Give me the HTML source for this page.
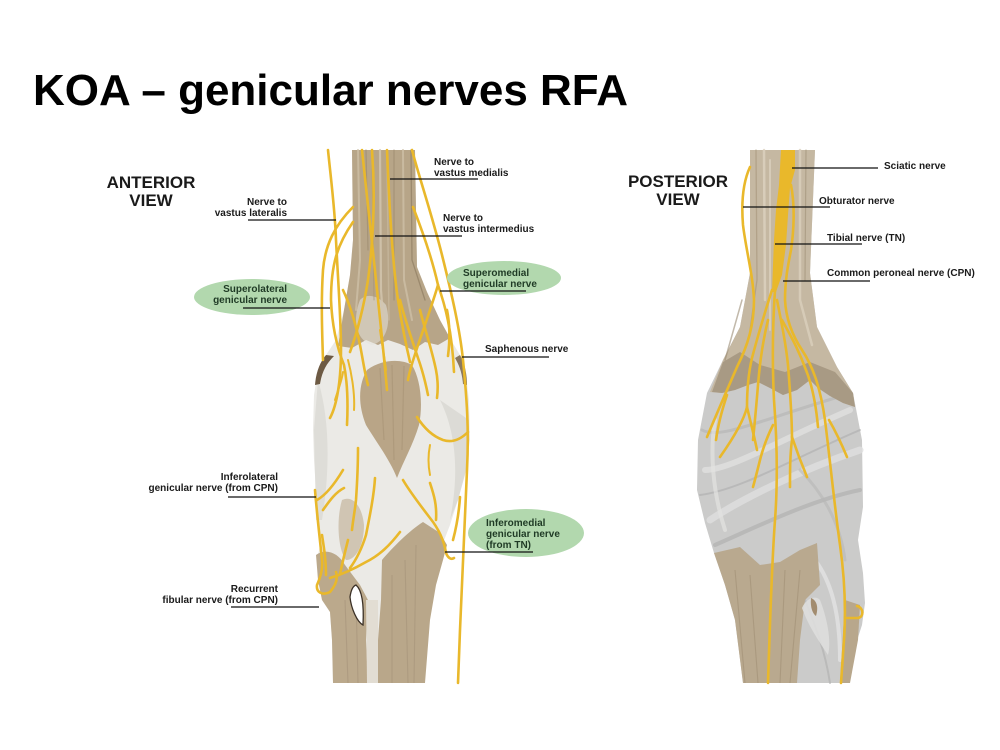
<!DOCTYPE html>
<html><head><meta charset="utf-8"><style>
html,body{margin:0;padding:0;background:#fff;}
body{width:1000px;height:750px;overflow:hidden;position:relative;}
svg{position:absolute;left:0;top:0;}
.t{font-family:"Liberation Sans",sans-serif;font-weight:bold;fill:#1a1a1a;}
.lb{font-size:10px;}
.g{fill:#1f3a25;}
.nv{fill:none;stroke:#e9b82b;stroke-width:2.6;stroke-linecap:round;stroke-linejoin:round;}
.nt{fill:none;stroke:#e9b82b;stroke-width:2;stroke-linecap:round;stroke-linejoin:round;}
.ld{stroke:#111;stroke-width:1.3;}
</style></head><body>
<svg width="1000" height="750" viewBox="0 0 1000 750" xmlns="http://www.w3.org/2000/svg">
<text x="33" y="105" style="font-family:'Liberation Sans',sans-serif;font-weight:bold;font-size:44px;fill:#000;">KOA – genicular nerves RFA</text>

<!-- ================= ANTERIOR VIEW ================= -->
<path d="M352,150 L353,240 L350,275 L344,310 L336,340 L326,355 L318,370 L314,395 L313,430 L314,460 L316,490 L318,520 L320,545 L317,560 L318,580 L322,600 L330,612 L332,640 L333,683 L424,683 L428,620 L433,583 L443,543 L450,525 L458,500 L465,475 L470,440 L469,400 L466,375 L460,355 L443,327 L427,292 L417,267 L415,150 Z" fill="#ebeae6"/>
<path d="M318,380 C330,420 330,470 322,520 L316,520 L314,430 Z" fill="#d9d7d2" opacity="0.7"/>
<path d="M440,400 C455,430 460,470 450,520 L458,500 L466,470 L469,420 Z" fill="#d6d4cf" opacity="0.7"/>
<path d="M326,355 C320,362 316,372 315,385 L320,384 C322,372 326,364 334,356 Z" fill="#6d5a44"/>
<path d="M460,355 C464,362 467,372 467,385 L463,384 C462,372 459,365 455,358 Z" fill="#8a7860"/>
<path d="M352,150 L415,150 L417,267 L427,292 L440,320 L450,338 L438,345 L425,342 L413,350 L400,344 L388,340 L378,345 L366,340 L352,348 L338,346 L344,310 L350,275 L353,240 Z" fill="#b7a588"/>
<path d="M360,300 C352,320 356,340 372,345 C385,342 392,325 386,305 C378,295 366,293 360,300 Z" fill="#e6e3dc" opacity="0.55"/>
<g stroke-linecap="round" fill="none">
<path d="M358,150 L360,260 L356,310" stroke="#cdbfa6" stroke-width="2" opacity="0.8"/>
<path d="M366,150 L368,250" stroke="#9d8b70" stroke-width="1.2" opacity="0.7"/>
<path d="M380,150 L381,290 L384,330" stroke="#d3c7b0" stroke-width="2.2" opacity="0.8"/>
<path d="M394,150 L394,300" stroke="#9c8a6e" stroke-width="1.3" opacity="0.6"/>
<path d="M403,150 L404,280 L412,320" stroke="#cdbfa6" stroke-width="2" opacity="0.8"/>
<path d="M411,150 L412,260 L425,300" stroke="#8f7d62" stroke-width="1.3" opacity="0.7"/>
<path d="M372,160 L374,300" stroke="#a39175" stroke-width="1" opacity="0.6"/>
<path d="M387,160 L389,320" stroke="#c8b99f" stroke-width="1.5" opacity="0.7"/>
</g>
<path d="M367,370 C380,360 400,358 412,365 C421,380 423,405 419,425 C413,445 403,462 397,478 C390,460 375,440 366,425 C358,405 358,385 367,370 Z" fill="#b9a587"/>
<path d="M380,368 L384,440 M392,365 L394,460 M404,366 L402,450" stroke="#a69374" stroke-width="1.2" opacity="0.6" fill="none"/>
<path d="M342,500 C352,495 362,505 364,525 C364,545 356,560 346,560 C338,550 336,520 342,500 Z" fill="#c9bca6" opacity="0.8"/>
<path d="M316,555 C325,548 338,552 345,565 L360,585 L368,600 L366,640 L368,683 L333,683 L332,640 L330,612 L322,600 L318,580 Z" fill="#bba98c"/>
<path d="M382,560 C392,548 410,530 423,522 L440,533 L447,545 L443,560 L436,585 L430,620 L425,683 L378,683 L378,640 L381,600 Z" fill="#b9a78a"/>
<path d="M366,600 L378,600 L378,683 L367,683 Z" fill="#e2ddd3"/>
<path d="M345,600 L348,683 M356,595 L358,683 M392,575 L392,683 M405,560 L408,683 M416,545 L414,683" stroke="#a5937a" stroke-width="1.1" opacity="0.6" fill="none"/>
<path d="M356,585 C362,590 364,605 363,625 C357,622 351,608 350,597 C351,590 353,586 356,585 Z" fill="#fff" stroke="#3b3127" stroke-width="1.3"/>

<g class="nv">
<path d="M328,150 C331,180 335,210 336,240 C338,280 341,320 341,350 C341,380 337,405 330,418"/>
<path d="M353,207 C335,225 325,245 323,270 C321,300 322,330 323,360"/>
<path d="M353,222 C337,245 331,265 331,300 C332,325 336,345 344,365 C348,385 348,405 347,425"/>
<path d="M362,150 C366,190 372,240 376,280 C380,320 384,355 387,390"/>
<path d="M387,150 C389,200 392,260 398,300 C402,325 406,345 410,362"/>
<path d="M372,150 C375,190 374,235 368,280 C364,305 358,330 350,352"/>
<path d="M412,150 C420,180 432,215 442,255 C452,295 460,330 463,360 C467,400 469,430 467,470 C465,520 462,580 460,630 L458,683"/>
<path d="M413,207 C422,230 432,258 438,285 C445,305 452,330 454,372"/>
<path d="M438,285 C432,305 425,325 418,345 C414,358 410,368 408,380"/>
<path d="M343,290 C350,305 356,325 360,345 C363,360 365,375 368,385"/>
<path d="M400,300 C405,320 412,340 418,358 C423,372 426,385 428,395"/>
<path d="M420,310 C425,330 432,350 436,370 C438,380 438,390 437,398"/>
<path d="M447,310 C450,325 450,340 448,356"/>
<path d="M417,417 C424,428 432,436 443,440 C452,443 460,440 468,432"/>
<path d="M315,490 C317,515 320,540 322,560 C323,570 320,578 317,585 C316,592 322,596 330,592 C336,585 338,578 336,572"/>
<path d="M317,500 C326,495 334,485 343,470"/>
<path d="M323,510 C330,500 336,492 344,488"/>
<path d="M358,448 C358,465 357,485 356,500 C355,510 353,520 352,530"/>
<path d="M375,478 C374,495 370,515 366,535 C362,548 356,560 350,568"/>
<path d="M330,578 C340,575 352,570 366,562 C380,555 390,545 400,532"/>
<path d="M326,575 C326,560 324,548 322,535"/>
<path d="M340,574 C343,560 346,548 348,540"/>
<path d="M403,480 C410,492 420,505 430,518 C438,528 444,540 446,553 C448,558 451,560 454,558"/>
<path d="M430,483 C434,495 437,505 436,520"/>
<path d="M460,497 C459,512 457,525 453,540"/>
</g>
<g class="nt">
<path d="M348,360 C352,375 355,395 354,410"/>
<path d="M380,330 C382,345 385,360 386,370"/>
<path d="M430,445 C428,455 428,465 430,475"/>
<path d="M335,400 C338,390 342,380 343,372"/>
</g>

<!-- ================= POSTERIOR VIEW ================= -->
<path d="M750,150 L750,273 L740,327 L723,360 L707,393 L698,440 L697,490 L705,523 L714,553 L725,585 L735,620 L743,683 L848,683 L853,653 L862,625 L865,603 L863,573 L858,540 L863,507 L862,440 L853,393 L837,367 L817,327 L810,273 L815,150 Z" fill="#cbcbca"/>
<g fill="none" stroke-linecap="round">
<path d="M705,470 C730,470 780,440 850,410" stroke="#e0e0df" stroke-width="6" opacity="0.8"/>
<path d="M710,520 C740,500 800,470 860,450" stroke="#dedede" stroke-width="7" opacity="0.8"/>
<path d="M715,545 C750,530 810,500 860,490" stroke="#b1b1b0" stroke-width="4" opacity="0.7"/>
<path d="M702,430 C720,440 760,420 845,395" stroke="#b4b4b3" stroke-width="3" opacity="0.6"/>
<path d="M700,495 C740,490 790,460 860,430" stroke="#aeaead" stroke-width="2" opacity="0.6"/>
<path d="M715,420 C710,450 712,490 725,530" stroke="#e2e2e1" stroke-width="4" opacity="0.7"/>
<path d="M800,470 C820,490 840,520 845,560" stroke="#b7b7b6" stroke-width="3" opacity="0.6"/>
<path d="M815,560 C830,580 840,610 840,660" stroke="#e2e2e2" stroke-width="4" opacity="0.8"/>
<path d="M805,600 C815,625 825,650 830,683" stroke="#b2b2b2" stroke-width="2" opacity="0.7"/>
</g>
<path d="M750,150 L815,150 L810,273 L817,327 L837,367 L853,393 L855,407 L843,403 L830,396 L818,388 L810,380 L797,390 L783,395 L770,388 L758,382 L748,385 L735,390 L722,393 L710,392 L723,360 L740,327 L750,273 Z" fill="#c5b8a2"/>
<path d="M712,392 L723,362 L740,352 L760,365 L785,372 L810,362 L835,372 L853,393 L855,407 L843,403 L830,396 L818,388 L810,380 L797,390 L783,395 L770,388 L758,382 L748,385 L735,390 L722,393 Z" fill="#a89a84"/>
<g fill="none" stroke-linecap="round">
<path d="M756,150 L757,280 L750,330" stroke="#a9997f" stroke-width="1.3" opacity="0.7"/>
<path d="M764,150 L765,300" stroke="#dcd2c0" stroke-width="2.5" opacity="0.8"/>
<path d="M800,150 L800,300 L812,345" stroke="#dad0bd" stroke-width="2.5" opacity="0.8"/>
<path d="M806,150 L805,280" stroke="#9f8f76" stroke-width="1.2" opacity="0.6"/>
<path d="M770,160 L770,330" stroke="#ddd3c2" stroke-width="2" opacity="0.7"/>
<path d="M742,300 L725,360" stroke="#9a8b73" stroke-width="1.5" opacity="0.6"/>
</g>
<path d="M714,553 L740,547 L760,565 L780,562 L800,550 L817,543 L820,585 L805,600 L800,640 L797,683 L743,683 L735,620 L725,585 Z" fill="#b9a98f"/>
<path d="M845,600 L860,605 L858,640 L850,683 L840,683 Z" fill="#b8a78c"/>
<path d="M735,570 L745,683 M750,575 L758,683 M785,570 L780,683 M800,570 L790,683" stroke="#a08f74" stroke-width="1.1" opacity="0.6" fill="none"/>
<path d="M802,608 C806,598 816,595 820,600 C826,615 832,640 828,655 C818,640 808,625 802,608 Z" fill="#dededd" opacity="0.9"/>
<path d="M811,598 C816,600 819,606 816,616 C813,614 810,608 811,598 Z" fill="#a28c6f"/>

<path d="M781,150 L795,150 L795,170 L790,188 L788,215 L786,245 L782,275 L776,292 L772,292 L773,265 L774,240 L776,210 L779,185 Z" fill="#e9b82b"/>
<g class="nv">
<path d="M791,185 C795,205 794,230 791,250 C788,265 785,280 785,300 C786,318 792,335 802,350 C812,365 820,385 825,420 C830,460 835,510 840,545 C845,580 846,610 844,640 L841,683"/>
<path d="M845,618 L858,618 C864,617 864,608 857,606"/>
<path d="M775,290 C773,320 772,360 774,400 C777,440 778,480 775,520 C772,560 770,620 768,683"/>
<path d="M750,167 C744,180 741,200 743,225 C746,250 753,275 754,300 C754,325 748,345 737,367 C727,390 717,413 707,437"/>
<path d="M772,290 C765,312 758,335 752,358 C748,375 747,395 747,407 C744,420 732,440 720,457"/>
<path d="M747,407 C750,420 754,435 757,450"/>
<path d="M768,320 C763,340 760,360 758,385 C756,410 754,430 753,440"/>
<path d="M773,425 C768,435 763,448 760,460 C757,472 755,480 753,487"/>
<path d="M777,300 C782,325 786,345 788,365 C790,390 792,420 792,440 C790,455 790,470 790,487"/>
<path d="M792,437 C797,452 802,465 807,477"/>
<path d="M782,320 C790,335 798,348 806,370 C812,385 816,405 818,427"/>
<path d="M829,420 C836,432 842,445 847,457"/>
<path d="M727,395 C722,410 718,425 716,440"/>
</g>

<!-- ================= LABELS ================= -->
<g class="t">
<text x="151" y="188" font-size="17" text-anchor="middle">ANTERIOR</text>
<text x="151" y="206" font-size="17" text-anchor="middle">VIEW</text>
<text x="678" y="187" font-size="17" text-anchor="middle">POSTERIOR</text>
<text x="678" y="205" font-size="17" text-anchor="middle">VIEW</text>
</g>

<ellipse cx="252" cy="297" rx="58" ry="18" fill="#b2d8ae"/>
<ellipse cx="504" cy="278" rx="57" ry="17" fill="#b2d8ae"/>
<ellipse cx="526" cy="533" rx="58" ry="24" fill="#b2d8ae"/>

<g class="t lb">
<text x="287" y="205" text-anchor="end">Nerve to</text>
<text x="287" y="216" text-anchor="end">vastus lateralis</text>
<text x="434" y="165">Nerve to</text>
<text x="434" y="176">vastus medialis</text>
<text x="443" y="221">Nerve to</text>
<text x="443" y="232">vastus intermedius</text>
<text x="485" y="352">Saphenous nerve</text>
<text x="278" y="480" text-anchor="end">Inferolateral</text>
<text x="278" y="491" text-anchor="end">genicular nerve (from CPN)</text>
<text x="278" y="592" text-anchor="end">Recurrent</text>
<text x="278" y="603" text-anchor="end">fibular nerve (from CPN)</text>
<text x="884" y="169">Sciatic nerve</text>
<text x="819" y="204">Obturator nerve</text>
<text x="827" y="241">Tibial nerve (TN)</text>
<text x="827" y="276">Common peroneal nerve (CPN)</text>
</g>
<g class="t lb g">
<text x="287" y="292" text-anchor="end" class="g">Superolateral</text>
<text x="287" y="303" text-anchor="end" class="g">genicular nerve</text>
<text x="463" y="276" class="g">Superomedial</text>
<text x="463" y="287" class="g">genicular nerve</text>
<text x="486" y="526" class="g">Inferomedial</text>
<text x="486" y="537" class="g">genicular nerve</text>
<text x="486" y="548" class="g">(from TN)</text>
</g>

<g class="ld">
<line x1="248" y1="220" x2="336" y2="220"/>
<line x1="390" y1="179" x2="478" y2="179"/>
<line x1="375" y1="236" x2="462" y2="236"/>
<line x1="243" y1="308" x2="330" y2="308"/>
<line x1="440" y1="291" x2="526" y2="291"/>
<line x1="462" y1="357" x2="549" y2="357"/>
<line x1="228" y1="497" x2="316" y2="497"/>
<line x1="231" y1="607" x2="319" y2="607"/>
<line x1="445" y1="552" x2="533" y2="552"/>
<line x1="792" y1="168" x2="878" y2="168"/>
<line x1="743" y1="207" x2="830" y2="207"/>
<line x1="775" y1="244" x2="862" y2="244"/>
<line x1="783" y1="281" x2="870" y2="281"/>
</g>
</svg>
</body></html>
